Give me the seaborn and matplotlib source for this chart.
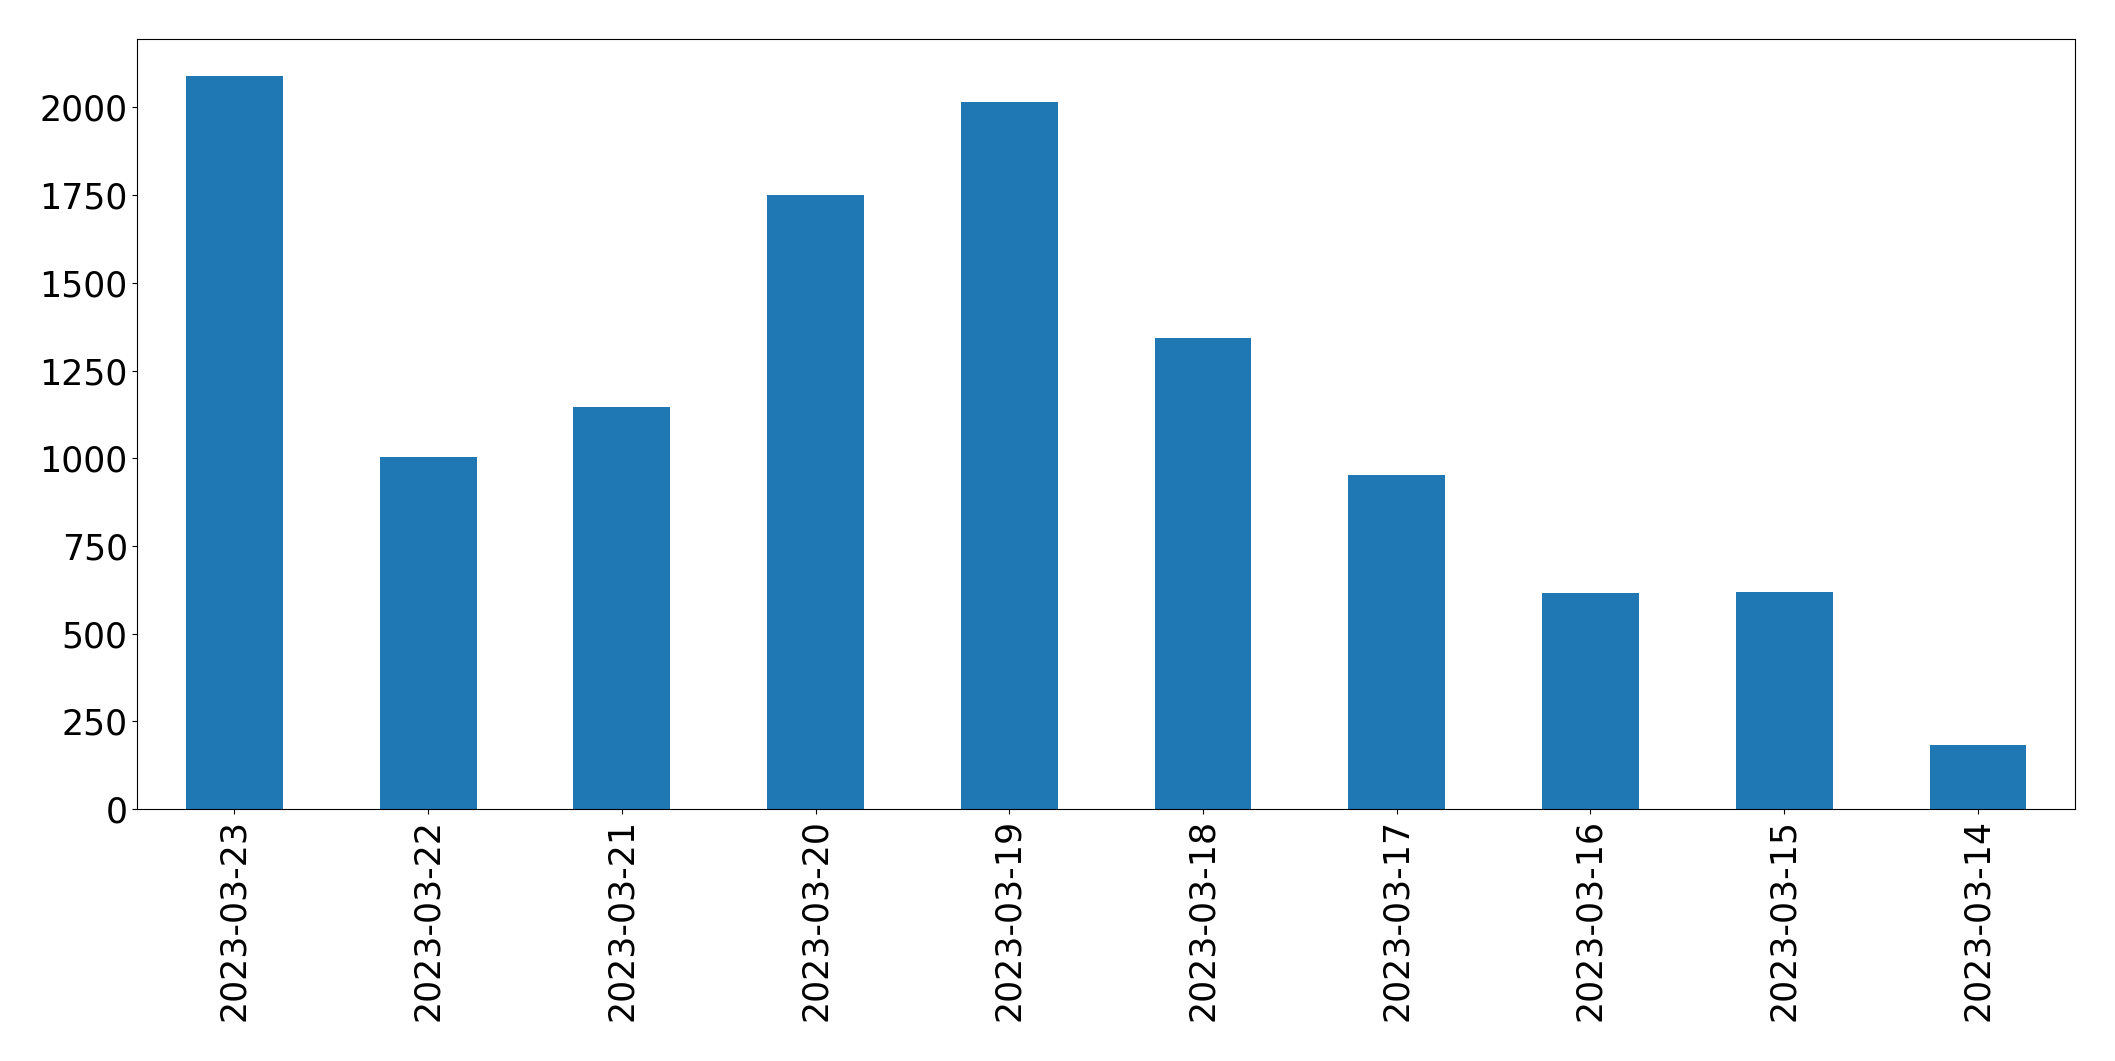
import seaborn as sns
import pandas as pd
import matplotlib
matplotlib.use("Agg")
import matplotlib.pyplot as plt

dates = ["2023-03-23", "2023-03-22", "2023-03-21", "2023-03-20", "2023-03-19",
         "2023-03-18", "2023-03-17", "2023-03-16", "2023-03-15", "2023-03-14"]
counts = [2090, 1004, 1146, 1750, 2015, 1343, 951, 616, 619, 182]

df = pd.DataFrame({"date": dates, "count": counts})

fig, ax = plt.subplots(figsize=(21.15, 10.61), dpi=100)
sns.barplot(data=df, x="date", y="count", order=dates, color="#1f77b4",
            saturation=1, width=0.5, ax=ax)
ax.set_xlim(-0.5, len(dates) - 0.5)
ax.set_xlabel("")
ax.set_ylabel("")
ax.tick_params(axis="both", labelsize=25)
ax.tick_params(axis="x", labelrotation=90)
fig.subplots_adjust(left=0.065, right=0.981, top=0.963, bottom=0.2375)
fig.savefig("out.png", dpi=100)
